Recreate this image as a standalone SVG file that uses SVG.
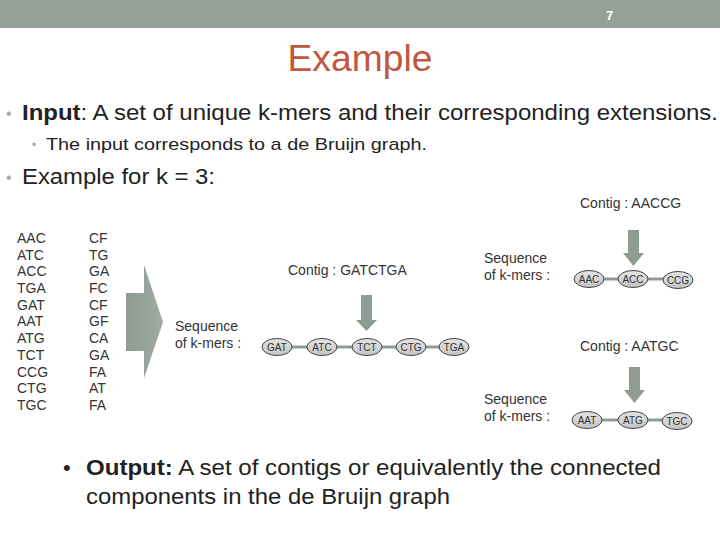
<svg xmlns="http://www.w3.org/2000/svg" width="720" height="540" viewBox="0 0 720 540">
<style>
text{font-family:"Liberation Sans",Arial,sans-serif;fill:#222}
.k{font-size:14px;fill:#333}
.n{font-size:10px;fill:#333;text-anchor:middle}
.lbl{font-size:14px;fill:#333}
.b1{font-size:22px}
.bul{fill:#aaa}
.node{fill:url(#ng);stroke:#444;stroke-width:1}
.edge{stroke:#8e9c92;stroke-width:3}
.arr{fill:#8e9c92}
</style>
<defs>
<linearGradient id="ng" x1="0" y1="0" x2="0" y2="1">
<stop offset="0" stop-color="#e4e4e4"/>
<stop offset="1" stop-color="#c4c4c4"/>
</linearGradient>
<linearGradient id="bg" x1="0" y1="0" x2="1" y2="0">
<stop offset="0" stop-color="#8e9c92"/>
<stop offset="1" stop-color="#9eaaa2"/>
</linearGradient>
</defs>
<rect width="720" height="540" fill="#fff"/>
<rect x="0" y="0" width="720" height="28" fill="#93a198"/>
<text x="606" y="20" style="font-size:13px;font-weight:bold;fill:#fff">7</text>
<text x="360" y="71" text-anchor="middle" style="font-size:37px;fill:#c0573f" textLength="145" lengthAdjust="spacingAndGlyphs">Example</text>

<text x="6" y="119" class="b1 bul" style="font-size:16px">•</text>
<text x="22" y="120" class="b1" textLength="696" lengthAdjust="spacingAndGlyphs"><tspan font-weight="bold">Input</tspan>: A set of unique k-mers and their corresponding extensions.</text>
<text x="32" y="149" class="bul" style="font-size:12px">•</text>
<text x="46" y="150" style="font-size:17px" textLength="381" lengthAdjust="spacingAndGlyphs">The input corresponds to a de Bruijn graph.</text>
<text x="6" y="183" class="b1 bul" style="font-size:16px">•</text>
<text x="22" y="184" class="b1" textLength="193" lengthAdjust="spacingAndGlyphs">Example for k = 3:</text>

<g id="kmers">
<text class="k" x="17" y="243">AAC</text>
<text class="k" x="17" y="260">ATC</text>
<text class="k" x="17" y="276">ACC</text>
<text class="k" x="17" y="293">TGA</text>
<text class="k" x="17" y="310">GAT</text>
<text class="k" x="17" y="326">AAT</text>
<text class="k" x="17" y="343">ATG</text>
<text class="k" x="17" y="360">TCT</text>
<text class="k" x="17" y="377">CCG</text>
<text class="k" x="17" y="393">CTG</text>
<text class="k" x="17" y="410">TGC</text>
</g>
<g id="extensions">
<text class="k" x="89" y="243">CF</text>
<text class="k" x="89" y="260">TG</text>
<text class="k" x="89" y="276">GA</text>
<text class="k" x="89" y="293">FC</text>
<text class="k" x="89" y="310">CF</text>
<text class="k" x="89" y="326">GF</text>
<text class="k" x="89" y="343">CA</text>
<text class="k" x="89" y="360">GA</text>
<text class="k" x="89" y="377">FA</text>
<text class="k" x="89" y="393">AT</text>
<text class="k" x="89" y="410">FA</text>
</g>
<path id="bigarrow" d="M126,293 H144 V265 L163,322 L144,378 V351 H126 Z" fill="url(#bg)"/>
<text class="lbl" x="175" y="331">Sequence</text>
<text class="lbl" x="175" y="348">of k-mers :</text>

<g id="connectors">
<line class="edge" x1="277" y1="347" x2="453" y2="347"/>
<line class="edge" x1="589" y1="279" x2="678" y2="279"/>
<line class="edge" x1="587" y1="420" x2="677" y2="420"/>
<path class="arr" d="M361,295 H372 V320 H377 L366.5,331 L356,320 H361 Z"/>
<path class="arr" d="M628,230 H639 V253 H644 L633.5,266 L623,253 H628 Z"/>
<path class="arr" d="M629,367 H640 V390 H645 L634.5,403 L624,390 H629 Z"/>
</g>

<text class="lbl" x="288" y="275">Contig : GATCTGA</text>
<g id="GAT"><ellipse class="node" cx="277" cy="347" rx="15" ry="8.5"/><text class="n" x="277" y="351">GAT</text></g>
<g id="ATC"><ellipse class="node" cx="322" cy="347" rx="15" ry="8.5"/><text class="n" x="322" y="351">ATC</text></g>
<g id="TCT"><ellipse class="node" cx="367" cy="347" rx="15" ry="8.5"/><text class="n" x="367" y="351">TCT</text></g>
<g id="CTG"><ellipse class="node" cx="411" cy="347" rx="15" ry="8.5"/><text class="n" x="411" y="351">CTG</text></g>
<g id="TGA"><ellipse class="node" cx="454" cy="347" rx="15" ry="8.5"/><text class="n" x="454" y="351">TGA</text></g>

<text class="lbl" x="580" y="208">Contig : AACCG</text>
<text class="lbl" x="484" y="263">Sequence</text>
<text class="lbl" x="484" y="280">of k-mers :</text>
<g id="AAC"><ellipse class="node" cx="589" cy="279" rx="15" ry="8.5"/><text class="n" x="589" y="283">AAC</text></g>
<g id="ACC"><ellipse class="node" cx="633" cy="279" rx="15" ry="8.5"/><text class="n" x="633" y="283">ACC</text></g>
<g id="CCG"><ellipse class="node" cx="678" cy="280" rx="15" ry="8.5"/><text class="n" x="678" y="284">CCG</text></g>

<text class="lbl" x="580" y="351">Contig : AATGC</text>
<text class="lbl" x="484" y="404">Sequence</text>
<text class="lbl" x="484" y="421">of k-mers :</text>
<g id="AAT"><ellipse class="node" cx="587" cy="420" rx="15" ry="8.5"/><text class="n" x="587" y="424">AAT</text></g>
<g id="ATG"><ellipse class="node" cx="633" cy="420" rx="15" ry="8.5"/><text class="n" x="633" y="424">ATG</text></g>
<g id="TGC"><ellipse class="node" cx="677" cy="421" rx="15" ry="8.5"/><text class="n" x="677" y="425">TGC</text></g>

<text x="63" y="475" class="b1">•</text>
<text x="86" y="475" class="b1" textLength="575" lengthAdjust="spacingAndGlyphs"><tspan font-weight="bold">Output:</tspan> A set of contigs or equivalently the connected</text>
<text x="86" y="504" class="b1" textLength="364" lengthAdjust="spacingAndGlyphs">components in the de Bruijn graph</text>
</svg>
